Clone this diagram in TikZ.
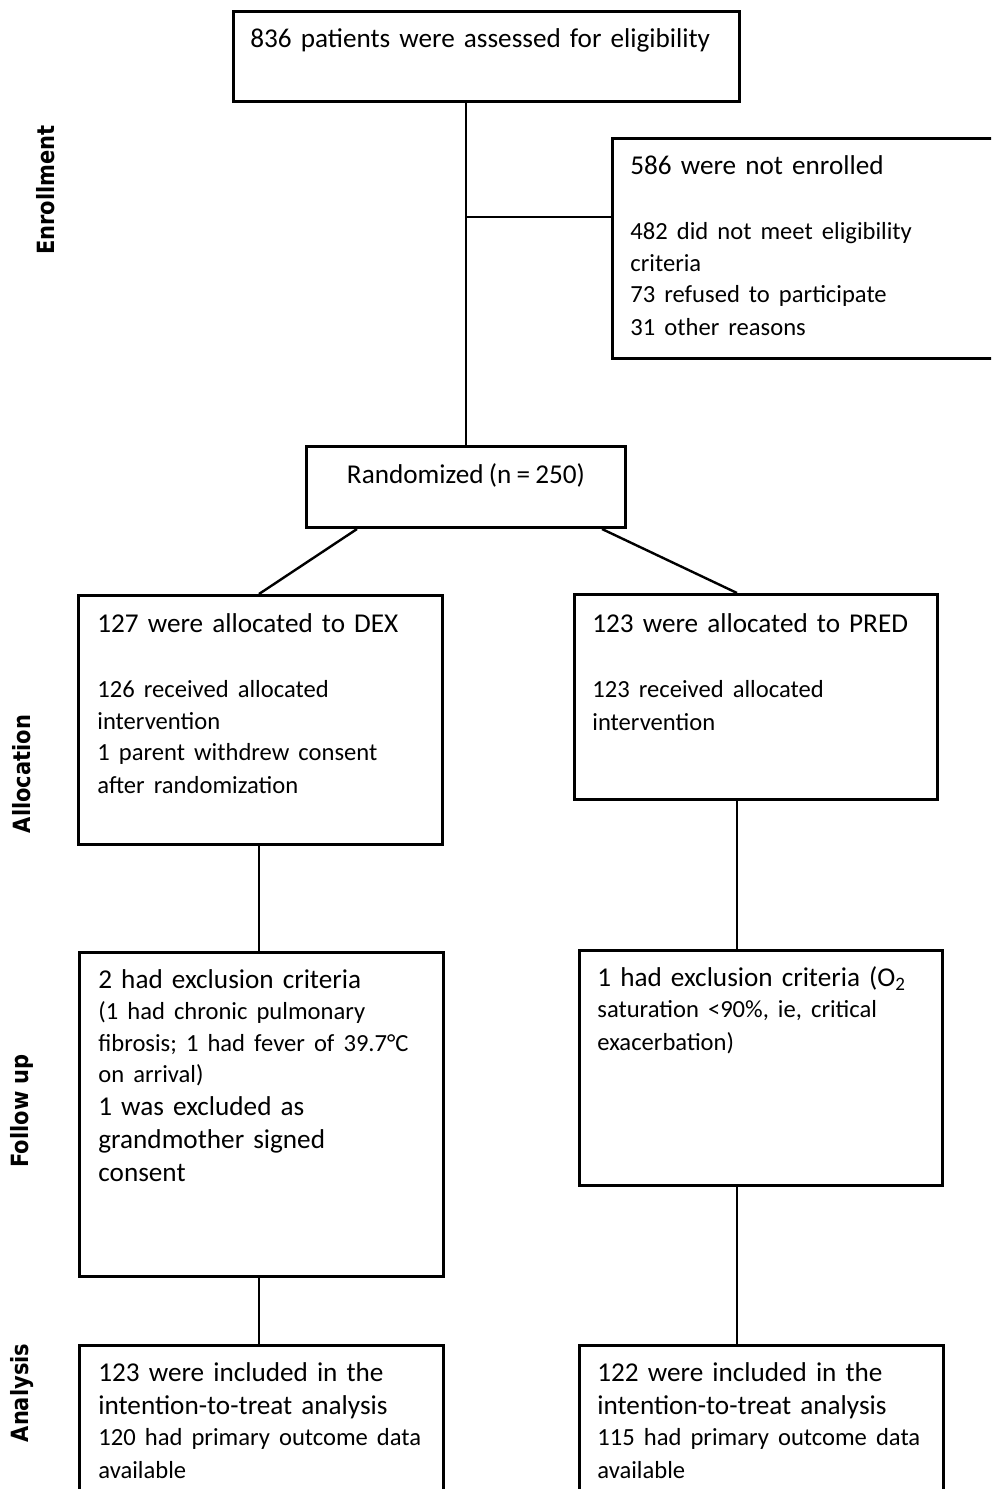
\documentclass[tikz,border=0pt]{standalone}
\usepackage{fontspec}
\usepackage{graphicx}
\setmainfont{Carlito}[WordSpace=0.85]
\newfontfamily\sidefont{DejaVu Sans}
\setlength\parindent{0pt}
\newcommand\bigln{\fontsize{13.6}{16.5}\selectfont}
\newcommand\smallln{\fontsize{12.3}{15.7}\selectfont}
\newcommand\phasetxt[1]{\scalebox{1}[1.13]{#1}}
\tikzset{
  flowbox/.style={draw, line width=1.5pt, anchor=north west, inner sep=0pt},
  boxtext/.style={anchor=north west, inner sep=0pt, align=left, font=\bigln},
  link/.style={line width=1.2pt},
  phase/.style={rotate=90, font=\sidefont\bfseries\fontsize{10.5}{12}\selectfont}
}
\begin{document}
\begin{tikzpicture}[x=0.5pt,y=-0.5pt]
  \clip (0,0) rectangle (991,1489);
  % boxes
  \node[flowbox, minimum width=253pt, minimum height=45pt] (assess) at (232,10) {};
  \node[flowbox, minimum width=194.5pt, minimum height=110pt] (noten) at (611,137) {};
  \node[flowbox, minimum width=159.5pt, minimum height=40.5pt] (rand) at (305,445) {};
  \node[flowbox, minimum width=182pt, minimum height=124.5pt] (dex) at (77,594) {};
  \node[flowbox, minimum width=181.5pt, minimum height=102.5pt] (pred) at (573,593) {};
  \node[flowbox, minimum width=182pt, minimum height=162pt] (fudex) at (78,951) {};
  \node[flowbox, minimum width=181.5pt, minimum height=117.5pt] (fupred) at (578,949) {};
  \node[flowbox, minimum width=182pt, minimum height=80pt] (andex) at (78,1344) {};
  \node[flowbox, minimum width=182pt, minimum height=80pt] (anpred) at (578,1344) {};
  % texts
  \node[boxtext, text width=240pt] (assess-txt) at ([shift={(18,14)}]assess.north west)
    {\strut 836 patients were assessed for eligibility};
  \node[boxtext, text width=170pt] (noten-txt) at ([shift={(19,14)}]noten.north west)
    {\strut 586 were not enrolled\\[17pt]
     \smallln 482 did not meet eligibility\\ criteria\\ 73 refused to participate\\ 31 other reasons};
  \node[anchor=north, inner sep=0pt, font=\bigln] (rand-txt) at ([shift={(0,15)}]rand.north)
    {\strut Randomized (n = 250)};
  \node[boxtext, text width=170pt] (dex-txt) at ([shift={(20,15)}]dex.north west)
    {\strut 127 were allocated to DEX\\[17pt]
     \smallln 126 received allocated\\ intervention\\ 1 parent withdrew consent\\ after randomization};
  \node[boxtext, text width=170pt] (pred-txt) at ([shift={(19,16)}]pred.north west)
    {\strut 123 were allocated to PRED\\[17pt]
     \smallln 123 received allocated\\ intervention};
  \node[boxtext, text width=170pt] (fudex-txt) at ([shift={(20,14)}]fudex.north west)
    {\strut 2 had exclusion criteria\\
     \smallln (1 had chronic pulmonary\\ fibrosis; 1 had fever of 39.7°C\\ on arrival)\\
     \bigln 1 was excluded as\\ grandmother signed\\ consent};
  \node[boxtext, text width=170pt] (fupred-txt) at ([shift={(19,14)}]fupred.north west)
    {\strut 1 had exclusion criteria (O\textsubscript{2}\\
     \smallln saturation <90\%, ie, critical\\ exacerbation)};
  \node[boxtext, text width=170pt] (andex-txt) at ([shift={(20,14)}]andex.north west)
    {\strut 123 were included in the\\ intention-to-treat analysis\\
     \smallln 120 had primary outcome data\\ available};
  \node[boxtext, text width=170pt] (anpred-txt) at ([shift={(19,14)}]anpred.north west)
    {\strut 122 were included in the\\ intention-to-treat analysis\\
     \smallln 115 had primary outcome data\\ available};
  % phase labels
  \node[phase] (enrol) at (46,190) {\phasetxt{Enrollment}};
  \node[phase] (alloc) at (22,774) {\phasetxt{Allocation}};
  \node[phase] (follow) at (22,1111) {\phasetxt{Follow up}};
  \node[phase] (anal) at (22,1393) {\phasetxt{Analysis}};
  % connectors
  \coordinate (spine) at (466,0);
  \coordinate (branch) at (466,217);
  \coordinate (lspine) at (259,0);
  \coordinate (rspine) at (737,0);
  \draw[link] (spine |- assess.south) -- (spine |- rand.north);
  \draw[link] (branch) -- (branch -| noten.west);
  \draw[link] ([xshift=26pt]rand.south west) -- (lspine |- dex.north);
  \draw[link] ([xshift=-12.5pt]rand.south east) -- (rspine |- pred.north);
  \draw[link] (lspine |- dex.south) -- (lspine |- fudex.north);
  \draw[link] (rspine |- pred.south) -- (rspine |- fupred.north);
  \draw[link] (lspine |- fudex.south) -- (lspine |- andex.north);
  \draw[link] (rspine |- fupred.south) -- (rspine |- anpred.north);
\end{tikzpicture}
\end{document}
